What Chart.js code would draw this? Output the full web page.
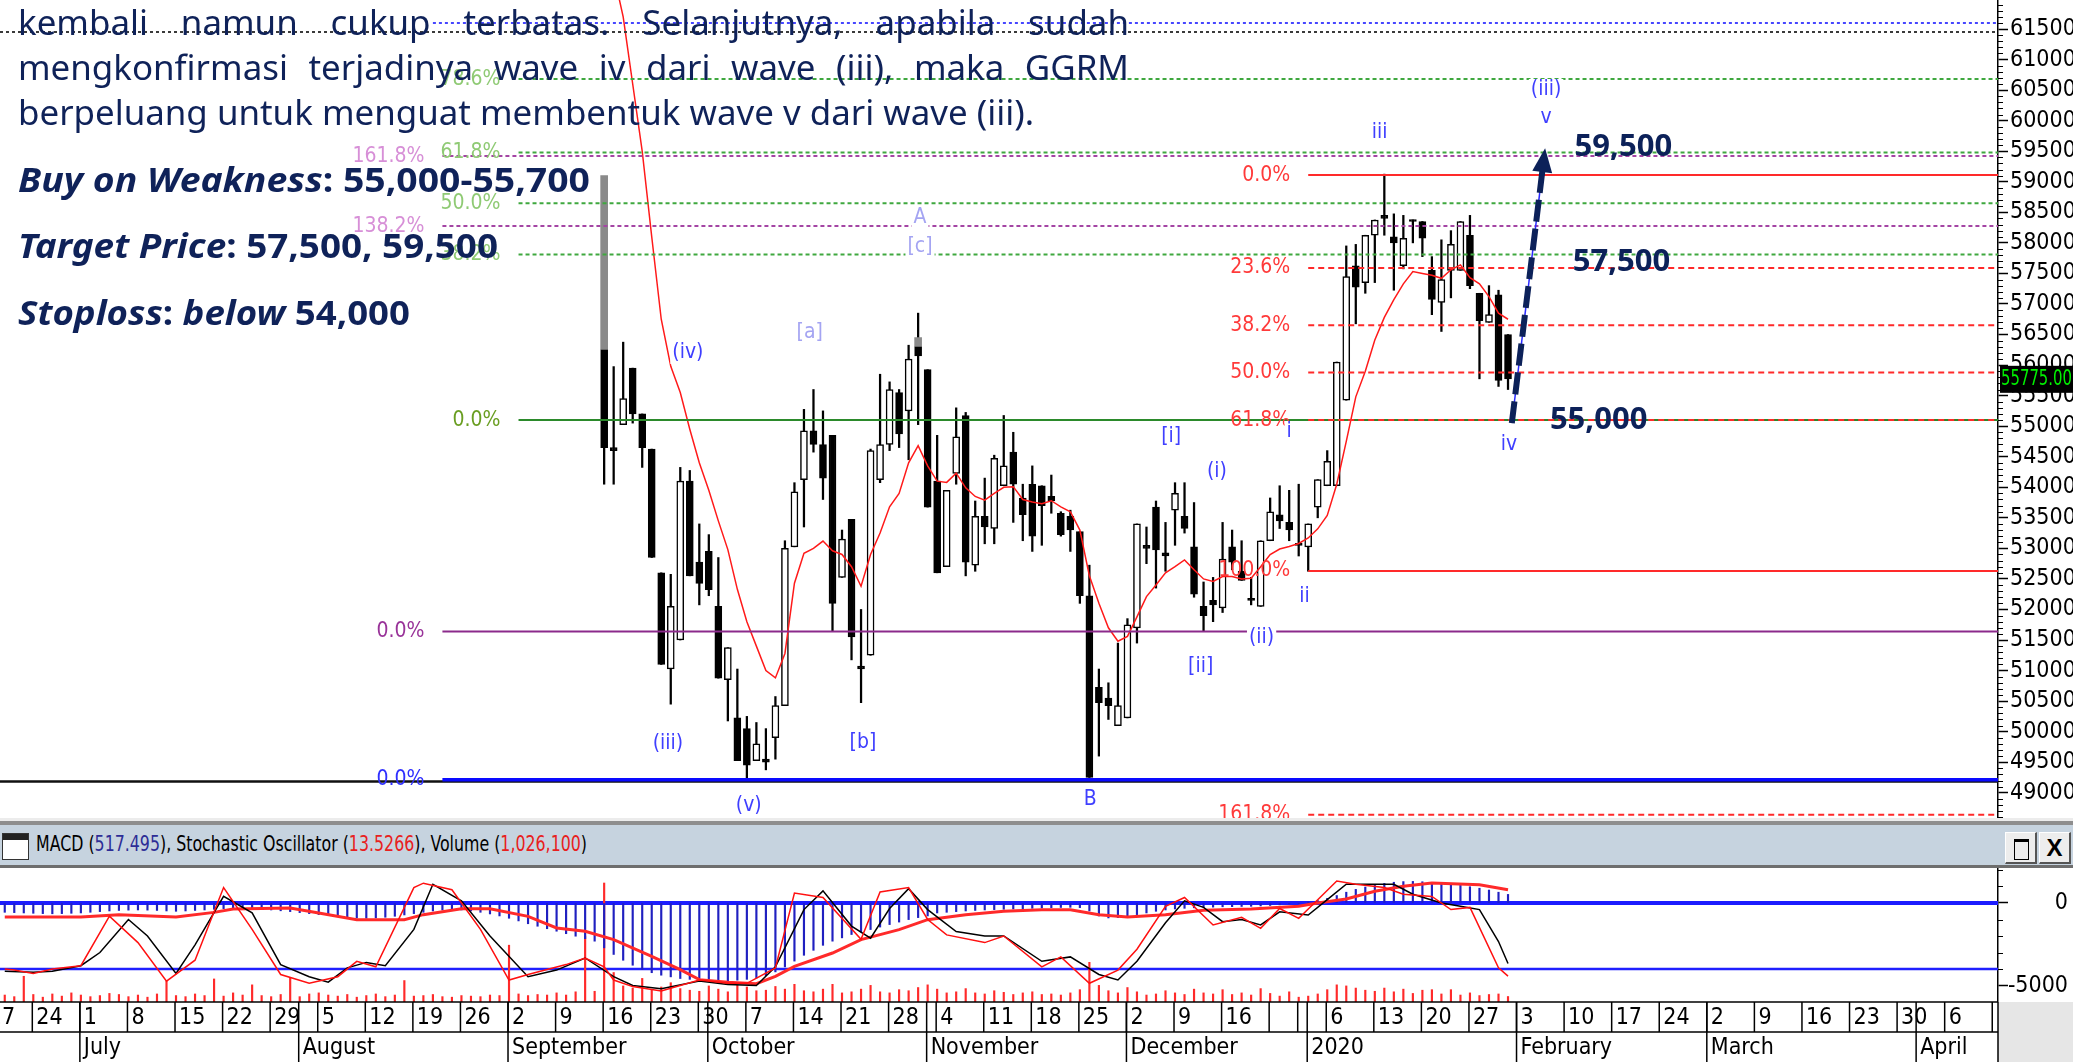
<!DOCTYPE html>
<html lang="id">
<head>
<meta charset="utf-8">
<title>GGRM</title>
<script src="https://cdn.jsdelivr.net/npm/chart.js@4.4.1/dist/chart.umd.min.js"></script>
<style>
html,body{margin:0;padding:0;background:#fff;}
body{width:2073px;height:1062px;position:relative;overflow:hidden;font-family:"Noto Sans",sans-serif;}
#mainBox{position:absolute;left:0;top:0;width:2073px;height:818px;}
#lowBox{position:absolute;left:0;top:868px;width:2073px;height:194px;}
#sepA{position:absolute;left:0;top:818px;width:2073px;height:3px;background:#ececec;}
#sepB{position:absolute;left:0;top:821px;width:2073px;height:4px;background:#8e8e8e;}
#hdr{position:absolute;left:0;top:825px;width:2073px;height:40px;background:#c6d3df;}
#hdrLine{position:absolute;left:0;top:865px;width:2073px;height:3px;background:#6e6e6e;}
#icon{position:absolute;left:2px;top:833px;width:27px;height:27px;border:1px solid #333;background:#fff;box-sizing:border-box;}
#icon:before{content:"";position:absolute;left:0;top:0;right:0;height:6px;background:#222;}
.btn{position:absolute;top:832px;width:32px;height:32px;box-sizing:border-box;background:#ededed;border:1px solid #fff;border-right:2px solid #555;border-bottom:2px solid #555;}
#btnMax:before{content:"";position:absolute;left:8px;top:6px;width:13px;height:17px;border:1.5px solid #000;border-top:3px solid #000;}
#btnX{font:bold 24px "Liberation Sans","DejaVu Sans",sans-serif;text-align:center;line-height:29px;color:#000;}
#hdrTxt{position:absolute;left:36px;top:830px;font:22px "Liberation Sans Narrow","DejaVu Sans Condensed",sans-serif;color:#000;white-space:nowrap;transform-origin:0 0;display:inline-block;line-height:28px;}
#para{position:absolute;left:18px;top:0px;font-size:34px;line-height:45px;color:#0f2259;transform-origin:0 0;font-family:"Noto Sans",sans-serif;}
#para .j{text-align:justify;text-align-last:justify;white-space:nowrap;}
#l3{display:inline-block;white-space:nowrap;}
.bl{position:absolute;left:18px;font:bold 34px "Noto Sans",sans-serif;line-height:40px;color:#0f2259;white-space:nowrap;transform-origin:0 0;display:inline-block;}
.bl i{font-style:italic;}
</style>
</head>
<body>
<div id="mainBox"><canvas id="mainChart"></canvas></div>
<div id="sepA"></div><div id="sepB"></div>
<div id="hdr"></div>
<div id="icon"></div>
<div id="hdrTxt">MACD (<span style="color:#2d2d96">517.495</span>), Stochastic Oscillator (<span style="color:#e82020">13.5266</span>), Volume (<span style="color:#e82020">1,026,100</span>)</div>
<div class="btn" id="btnMax" style="left:2005px"></div>
<div class="btn" id="btnX" style="left:2039px">X</div>
<div id="hdrLine"></div>
<div id="lowBox"><canvas id="lowChart"></canvas></div>

<div id="para">
  <div class="j" id="l1">kembali namun cukup terbatas. Selanjutnya, apabila sudah</div>
  <div class="j" id="l2">mengkonfirmasi terjadinya wave iv dari wave (iii), maka GGRM</div>
  <div><span id="l3">berpeluang untuk menguat membentuk wave v dari wave (iii).</span></div>
</div>
<div class="bl" id="b1" style="top:159px"><i>Buy on Weakness</i>: 55,000-55,700</div>
<div class="bl" id="b2" style="top:225px"><i>Target Price</i>: 57,500, 59,500</div>
<div class="bl" id="b3" style="top:292px"><i>Stoploss</i>: <i>below</i> 54,000</div>

<script>
// ---------------- DATA ----------------
const holidays = ['2019-12-24','2019-12-25','2019-12-31','2020-01-01'];
const firstDay = '2019-06-19';
const lastDay  = '2020-04-13';
const monthNames = ['2020','February','March','April','May','June','July','August','September','October','November','December'];

const priceTicks = [49000,49500,50000,50500,51000,51500,52000,52500,53000,53500,54000,54500,55000,55500,56000,56500,57000,57500,58000,58500,59000,59500,60000,60500,61000,61500];
const macdTicks = [-5000, 0];

// candles from 2019-09-16 to 2020-01-31
const candleStartDate = '2019-09-16';
const candleOpen = [
56250,54650,55025,55950,55200,54625,52600,51025,51500,54100,
52775,52950,52050,50850,50225,50050,49525,49550,49900,50425,
53025,54125,54925,54700,54850,52525,53475,51075,51250,54125,
54700,55550,55250,56300,55925,54100,52700,54225,55175,52725,
53525,53325,54025,54575,53825,54050,54025,53850,53575,53525,
53275,52225,50725,50550,50100,50225,51700,53050,53675,52925,
53625,53525,53025,52050,52150,52025,53025,52625,52175,52050,
53125,53550,53425,53075,53025,53675,54025,54025,55425,57625,
57350,58125,58450,58100,57625,58375,58350,57550,57025,57550,
57550,58125,57175,56700,57150,56500];
const candleHigh = [
56250,55975,56375,55950,55200,54625,52600,52575,54325,54275,
53400,53225,52850,51375,51025,50250,50150,50050,50575,53125,
54075,55275,55600,55250,54850,53300,53475,52000,54625,55850,
55725,55600,56325,56850,55925,54850,53950,55300,55225,53775,
54150,54525,55175,54900,54050,54350,54025,54200,53600,53625,
53275,52725,51025,50800,51450,51850,53400,53350,53775,53425,
54075,54075,53750,52450,52525,53425,53300,53125,52525,53125,
53825,54025,53950,54050,53400,54125,54600,56050,57950,57975,
58125,58375,59125,58475,58450,58375,58350,57775,58050,58200,
58350,58450,57175,57300,57225,56500];
const candleLow = [
54050,54050,55025,55050,54325,52850,51100,50450,51500,52550,
52075,52225,50875,50175,49525,49200,49525,49375,49550,50425,
53025,53350,54575,53800,51650,52525,51175,50475,51250,54075,
54600,54650,54450,55025,53675,52600,52700,54050,52550,52625,
53075,53075,54025,53425,53125,52950,53050,53575,53200,52950,
52100,49250,49600,50200,50100,50225,51450,52750,52350,52625,
53050,53250,52200,51650,51800,51950,52650,52475,52075,52050,
53125,53325,53125,52875,52625,53500,54025,54025,55425,56675,
57175,57350,58125,57225,57575,58000,57775,56825,56550,57100,
57550,57250,55775,56700,55650,55600];
const candleClose = [
54650,54600,55450,55200,54650,52850,51100,52050,54100,52550,
52425,52325,50875,51375,49525,49450,49800,49500,50425,53000,
53925,54925,54700,54150,52100,53150,51550,51025,54600,54700,
55600,54875,56100,56150,53675,52600,53950,54825,52775,53525,
53350,54475,54350,54050,53550,53200,53700,53775,53225,53300,
52225,49250,50475,50425,50425,51750,53400,53000,52975,52875,
53900,53325,52250,51900,52075,52825,52775,52475,52150,53125,
53600,53450,53300,53050,53400,54125,54425,56050,57450,57275,
58125,58375,58400,58000,58075,58350,58075,57075,57400,57975,
58350,57300,56725,56825,55750,55775];
// grey upper parts of two candles
const grayDates = ['2019-09-16','2019-10-31'];
const grayLow   = [56250, 56300];
const grayHigh  = [59100, 56450];

// red moving average from 2019-09-13
const maStartDate = '2019-09-13';
const maValues = [
64300,63300,62400,61700,60600,59500,58100,56750,55980,55550,
54950,54400,53950,53450,52980,52330,51800,51400,51000,50880,
51280,52430,52920,53000,53120,52960,52900,52700,52380,52900,
53250,53680,53900,54400,54680,54350,54100,54080,54230,53990,
53850,53790,53900,54000,54010,53800,53760,53730,53780,53680,
53600,53300,52550,52100,51700,51480,51560,51880,52210,52400,
52600,52700,52810,52650,52500,52460,52540,52540,52500,52510,
52700,52900,52990,53030,53080,53170,53320,53540,54050,54750,
55480,55900,56410,56780,57070,57330,57530,57500,57470,57420,
57560,57640,57430,57330,57120,56850,56750];

// Fibonacci / horizontal levels
const topDotLevels = [61600, 61450];
const greenFibLevels = [60680, 59480, 58650, 57810, 55100];
const greenFibLabels = ['78.6%','61.8%','50.0%','38.2%','0.0%'];
const purpleFibLevels = [59420, 58275, 51640];
const purpleFibLabels = ['161.8%','138.2%','0.0%'];
const redFibLevels = [59110, 57590, 56650, 55880, 55100, 52630, 48640];
const redFibLabels = ['0.0%','23.6%','38.2%','50.0%','61.8%','100.0%','161.8%'];
const blueBaseLevel = 49215;
const blackBaseLevel = 49185;
const blueDotStart = 45, purpleStart = 46, greenStart = 54, redStart = 137, blueStart = 46;

// Elliott wave labels
const waveText  = ['(iv)','[a]','A','[c]','(iii)','(v)','[b]','B','[i]','(i)','[ii]','(ii)','i','ii','iii','iv','v','(iii)'];
const waveIdx   = [71.8, 84.6, 96.2, 96.2, 69.7, 78.2, 90.2, 114.1, 122.6, 127.4, 125.7, 132.1, 135.0, 136.6, 144.5, 158.1, 162.0, 162.0];
const wavePrice = [56197, 56525, 58407, 57932, 49798, 48783, 49814, 48881, 54822, 54250, 51058, 51533, 54904, 52204, 59798, 54692, 60043, 60502];

// Target annotations
const targetText  = ['59,500','57,500','55,000'];
const targetIdx   = [165.0, 164.8, 162.4];
const targetPrice = [59560, 57680, 55100];
const arrowFrom = [158.4, 55050];
const arrowTo   = [161.9, 59550];

// lower panel (index 0 = 2019-06-19 ... 158 = 2020-01-31)
const volumeK = [
1300,1000,4800,1400,900, 1500,1100,1700,1300,1000, 1200,1600,1400,1000,1300, 900,1500,3900,1200,1000,
1500,1200,4300,1100,1700, 1300,3200,1200,1000,1400, 4600,1000,1500,1700,1300, 1100,1400,900,1200,1500,
1000,1300,4000,1100,1200, 1400,1000,900,1200,1100, 1000,1300,1200,10600,1500, 1200,1400,1300,1700,1300,
1900,12300,2000,22200,5500, 3000,2600,4400,2200,2800, 3600,2500,2200,2000,3000, 2400,1900,3200,2800,2100,
2200,2900,2400,3300,2100, 1900,2400,3300,1700,1900, 2400,3100,1900,1700,2300, 2100,2700,3200,2400,1700,
1900,2500,1700,1500,2100, 1800,1400,1700,1900,1400, 1500,1300,1700,2300,7400, 3100,2100,1700,2700,1900,
1300,1500,2100,1700,1400, 2400,1700,1500,2300,1400, 1700,1300,2500,1600,1100, 1900,900,1100,1500,2300,
3200,3000,2600,2200,2000, 2600,1900,2400,1600,2200, 2300,1500,2300,1300,1700, 1200,1400,1500,1026];
const macdHist = [
-560,-580,-600,-620,-640,-650,-640,-620,
-600,-560,-520,-480,-450,-430,-420,-430,
-450,-480,-500,-480,-450,-420,-380,-340,
-320,-330,-350,-380,-420,-470,-520,-580,
-640,-700,-760,-820,-870,-900,-920,-900,
-860,-800,-720,-640,-560,-480,-420,-400,
-420,-480,-560,-660,-780,-920,-1080,-1250,
-1400,-1550,-1700,-1850,-2000,-2150,-2300,
-2700,-3100,-3450,-3750,-4000,-4200,-4350,
-4450,-4550,-4600,-4650,-4700,-4700,-4680,-4650,-4600,-4520,
-4380,-4150,-3850,-3500,-3150,-2850,-2550,-2300,
-2100,-1900,-1750,-1600,-1450,-1300,-1150,-1000,-880,-780,
-600,-560,-520,-480,-450,-420,-400,-380,-360,-340,-320,
-300,-280,-270,-260,-280,-480,
-780,-900,-880,-800,-700,-600,-500,
-420,-360,-320,-290,-270,-250,-230,-220,-210,-200,
-180,-150,-110,-60,-10,
60,150,280,450,650,820,960,1080,1180,1250,1290,1300,1280,1240,1190,1130,1060,980,890,780,650,517];
const macdSignalPts = [[0,-843],[8,-843],[12,-703],[18,-843],[22,-565],[24,-364],[30,-301],[33,-602],[37,-1004],[42,-1004],[44,-703],[48,-343],[51,-343],[55,-803],[58,-1506],[61,-1707],[64,-2209],[68,-3213],[71,-4016],[73,-4618],[76,-4779],[79,-4859],[81,-4417],[83,-3815],[87,-3012],[90,-2209],[94,-1607],[97,-1004],[101,-703],[105,-502],[109,-402],[112,-402],[115,-703],[118,-843],[122,-703],[126,-442],[131,-364],[136,-201],[138,0],[141,241],[144,703],[147,1004],[150,1205],[155,1104],[158,803]];
const stochKPts = [[0,20],[1,19],[3,16],[5,20],[8,23],[11,68],[14,44],[17,9],[20,28],[23,94],[26,56],[29,15],[32,7],[35,13],[37,27],[39,22],[43,94],[44,98],[47,92],[50,56],[53,10],[55,15],[59,24],[61,30],[63,22],[64,10],[66,4],[69,0],[73,10],[76,7],[78,7],[81,21],[83,89],[86,85],[90,47],[92,90],[95,94],[97,65],[99,51],[103,44],[105,50],[109,22],[111,31],[114,7],[117,19],[119,38],[122,77],[124,85],[127,60],[130,67],[132,57],[134,75],[136,66],[138,83],[140,100],[142,97],[145,94],[147,88],[150,86],[152,74],[154,76],[157,21],[158,13.5]];
const stochDPts = [[0,18],[3,17],[5,18],[8,23],[10,35],[13,65],[15,50],[18,16],[20,42],[23,86],[26,71],[29,24],[32,13],[34,8],[36,21],[38,26],[40,23],[43,56],[45,97],[48,82],[51,50],[55,13],[58,19],[61,30],[64,13],[66,5],[69,2],[73,9],[76,6],[79,5],[81,22],[84,74],[86,91],[89,59],[91,48],[93,75],[95,93],[97,74],[100,54],[103,50],[105,50],[109,27],[112,31],[115,15],[117,10],[119,27],[122,62],[124,82],[126,76],[128,63],[130,65],[132,60],[134,72],[137,69],[139,83],[141,97],[144,97],[146,97],[148,88],[151,80],[153,77],[155,74],[157,45],[158,25]];
const stochLevels = [80, 20];

// ---------------- CALENDAR ----------------
function parseD(s){const [Y,M,D]=s.split('-').map(Number);return new Date(Y,M-1,D);}
function keyD(d){return d.getFullYear()+'-'+String(d.getMonth()+1).padStart(2,'0')+'-'+String(d.getDate()).padStart(2,'0');}
const dates = [];
for (let d = parseD(firstDay); d <= parseD(lastDay); d.setDate(d.getDate()+1)) {
  const w = d.getDay(); const k = keyD(d);
  if (w !== 0 && w !== 6 && !holidays.includes(k)) dates.push(k);
}
const candleStart = dates.indexOf(candleStartDate);
const maStart = dates.indexOf(maStartDate);

const wickData = dates.map((_, i) => { const k = i - candleStart; return (k >= 0 && k < candleOpen.length) ? [candleLow[k], candleHigh[k]] : null; });
const bodyData = dates.map((_, i) => { const k = i - candleStart; return (k >= 0 && k < candleOpen.length) ? [Math.min(candleOpen[k], candleClose[k]), Math.max(candleOpen[k], candleClose[k])] : null; });
const grayData = dates.map(d => { const g = grayDates.indexOf(d); return g >= 0 ? [grayLow[g], grayHigh[g]] : null; });
const maData = dates.map((_, i) => { const k = i - maStart; return (k >= 0 && k < maValues.length) ? maValues[k] : null; });
const toPts = arr => arr.map(([i, v]) => ({x: dates[i], y: v}));

const NARROW = '"Liberation Sans Narrow","Arial Narrow","DejaVu Sans Condensed",sans-serif';
Chart.defaults.font.family = NARROW;

// ---------------- MAIN PLUGIN ----------------
function hline(ctx, x1, x2, yy, color, width, dash){
  ctx.save(); ctx.strokeStyle = color; ctx.lineWidth = width; ctx.setLineDash(dash || []);
  ctx.beginPath(); ctx.moveTo(x1, yy); ctx.lineTo(x2, yy); ctx.stroke(); ctx.restore();
}
function rtext(ctx, t, xx, yy, color){
  ctx.save(); ctx.font = '21px ' + NARROW; ctx.fillStyle = color; ctx.textAlign = 'right'; ctx.textBaseline = 'middle';
  ctx.fillText(t, xx, yy); ctx.restore();
}
const mainAnnot = {
  id: 'mainAnnot',
  afterDatasetsDraw(chart){
    const {ctx, chartArea: a, scales: {x, y}} = chart;
    const px = i => x.getPixelForValue(i), py = v => y.getPixelForValue(v);
    const R = a.right;
    ctx.save();
    ctx.beginPath(); ctx.rect(a.left, a.top, a.right - a.left, a.bottom - a.top); ctx.clip();
    hline(ctx, a.left, R, py(topDotLevels[1]), '#3a3a3a', 2, [3,3]);
    hline(ctx, px(blueDotStart), R, py(topDotLevels[0]), '#4646ff', 2, [3,3]);
    hline(ctx, a.left, R, py(blackBaseLevel), '#101010', 2.5);
    hline(ctx, px(blueStart), R, py(blueBaseLevel), '#0a0aff', 3.5);
    rtext(ctx, '0.0%', px(blueStart) - 18, py(blueBaseLevel), '#3030ff');
    purpleFibLevels.forEach((v, k) => {
      const solid = purpleFibLabels[k] === '0.0%';
      hline(ctx, px(purpleStart), R, py(v), solid ? '#8b2a8b' : '#a445a4', 2, solid ? [] : [4,3]);
      rtext(ctx, purpleFibLabels[k], px(purpleStart) - 18, py(v), solid ? '#993399' : '#d78fd7');
    });
    greenFibLevels.forEach((v, k) => {
      const solid = greenFibLabels[k] === '0.0%';
      hline(ctx, px(greenStart), R, py(v), solid ? '#2b8a2b' : '#3fa83f', 2, solid ? [] : [4,3]);
      rtext(ctx, greenFibLabels[k], px(greenStart) - 18, py(v), solid ? '#6a9e22' : '#8fca74');
    });
    redFibLevels.forEach((v, k) => {
      const solid = redFibLabels[k] === '0.0%' || redFibLabels[k] === '100.0%';
      hline(ctx, px(redStart), R, py(v), '#ff2a2a', 2, solid ? [] : [6,4]);
      rtext(ctx, redFibLabels[k], px(redStart) - 18, py(v), '#ff3a3a');
    });
    const x1 = px(arrowFrom[0]), y1 = py(arrowFrom[1]), x2 = px(arrowTo[0]), y2 = py(arrowTo[1]);
    const ang = Math.atan2(y2 - y1, x2 - x1);
    const xe = x2 - Math.cos(ang) * 18, ye = y2 - Math.sin(ang) * 18;
    ctx.save();
    ctx.strokeStyle = '#2b2bff'; ctx.lineWidth = 1.5; ctx.beginPath(); ctx.moveTo(x1, y1); ctx.lineTo(xe, ye); ctx.stroke();
    ctx.strokeStyle = '#0c2159'; ctx.lineWidth = 6; ctx.setLineDash([22, 7]);
    ctx.beginPath(); ctx.moveTo(x1, y1); ctx.lineTo(xe, ye); ctx.stroke();
    ctx.setLineDash([]); ctx.fillStyle = '#0c2159';
    ctx.beginPath(); ctx.moveTo(x2, y2);
    ctx.lineTo(x2 - Math.cos(ang) * 24 + Math.sin(ang) * 10, y2 - Math.sin(ang) * 24 - Math.cos(ang) * 10);
    ctx.lineTo(x2 - Math.cos(ang) * 24 - Math.sin(ang) * 10, y2 - Math.sin(ang) * 24 + Math.cos(ang) * 10);
    ctx.closePath(); ctx.fill();
    ctx.restore();
    ctx.font = '21px ' + NARROW; ctx.textAlign = 'center'; ctx.textBaseline = 'middle';
    const pale = ['[a]','A','[c]'];
    waveText.forEach((t, k) => {
      const xx = px(waveIdx[k]), yy = py(wavePrice[k]);
      const w = ctx.measureText(t).width;
      ctx.fillStyle = '#ffffff'; ctx.fillRect(xx - w/2 - 2, yy - 11, w + 4, 22);
      ctx.fillStyle = pale.includes(t) ? '#a4a4f2' : '#3f3fff';
      ctx.fillText(t, xx, yy);
    });
    ctx.font = 'bold 31px "Noto Sans",sans-serif'; ctx.textAlign = 'left'; ctx.fillStyle = '#0c2159';
    targetText.forEach((t, k) => ctx.fillText(t, px(targetIdx[k]), py(targetPrice[k])));
    ctx.restore();
  },
  afterDraw(chart){
    const {ctx, chartArea: a, scales: {y}} = chart;
    ctx.save();
    ctx.strokeStyle = '#000'; ctx.lineWidth = 1;
    for (let v = Math.ceil(y.min / 100) * 100; v <= y.max; v += 100) {
      if (v % 500 === 0) continue;
      const yy = Math.round(y.getPixelForValue(v)) + 0.5;
      ctx.beginPath(); ctx.moveTo(a.right, yy); ctx.lineTo(a.right + 5, yy); ctx.stroke();
    }
    const last = candleClose[candleClose.length - 1];
    const yy = y.getPixelForValue(last);
    const bw = chart.width - a.right - 2;
    ctx.fillStyle = '#000'; ctx.fillRect(a.right + 2, yy - 13, bw, 27);
    ctx.fillStyle = '#00f000'; ctx.font = '21px ' + NARROW; ctx.textAlign = 'left'; ctx.textBaseline = 'middle';
    ctx.fillText(last.toFixed(2), a.right + 3, yy + 1, bw - 2);
    ctx.restore();
  }
};

new Chart(document.getElementById('mainChart'), {
  data: {
    labels: dates,
    datasets: [
      { type: 'bar', label: 'Wick', data: wickData, backgroundColor: '#000', barThickness: 1.6, grouped: false, order: 4 },
      { type: 'bar', label: 'Upper', data: grayData, backgroundColor: '#8a8a8a', barThickness: 7, grouped: false, order: 3 },
      { type: 'bar', label: 'Body', data: bodyData, grouped: false, order: 2, barThickness: 7, minBarLength: 2,
        borderSkipped: false, borderColor: '#000', borderWidth: 1.5,
        backgroundColor: c => { const k = c.dataIndex - candleStart; return (k >= 0 && candleClose[k] > candleOpen[k]) ? '#ffffff' : '#000000'; } },
      { type: 'line', label: 'MA', data: maData, borderColor: '#ff1a1a', borderWidth: 1.5, pointRadius: 0, order: 1 }
    ]
  },
  options: {
    responsive: true, maintainAspectRatio: false, animation: false, devicePixelRatio: 1,
    layout: { padding: 0 },
    plugins: { legend: { display: false }, tooltip: { enabled: false } },
    scales: {
      x: { type: 'category', display: false, offset: true },
      y: {
        position: 'right', min: 48587, max: 61975,
        afterBuildTicks: s => { s.ticks = priceTicks.map(v => ({ value: v })); },
        afterFit: s => { s.width = 75; s.paddingTop = 0; s.paddingBottom = 0; },
        grid: { drawOnChartArea: false, drawTicks: true, tickLength: 10, tickColor: '#000', tickWidth: 1.5 },
        border: { display: true, color: '#000', width: 1.5 },
        ticks: { color: '#000', font: { size: 23 }, padding: 2, autoSkip: false, maxRotation: 0, callback: v => String(v) }
      }
    }
  },
  plugins: [mainAnnot]
});

// ---------------- LOWER PANEL ----------------
const lowAnnot = {
  id: 'lowAnnot',
  beforeDatasetsDraw(chart){
    const {ctx, chartArea: a, scales: {yStoch}} = chart;
    hline(ctx, a.left, a.right, yStoch.getPixelForValue(stochLevels[0]), '#1c1cff', 4);
    hline(ctx, a.left, a.right, yStoch.getPixelForValue(stochLevels[1]), '#2020ff', 2.5);
  },
  afterDraw(chart){
    const {ctx, chartArea: a, scales: {x, yMacd}} = chart;
    const top = a.bottom, mid = top + 30, bot = top + 60;
    ctx.save();
    ctx.strokeStyle = '#000'; ctx.lineWidth = 1;
    for (let v = Math.ceil(yMacd.min / 1000) * 1000; v <= yMacd.max; v += 1000) {
      if (macdTicks.includes(v)) continue;
      const yy = Math.round(yMacd.getPixelForValue(v)) + 0.5;
      ctx.beginPath(); ctx.moveTo(a.right, yy); ctx.lineTo(a.right + 5, yy); ctx.stroke();
    }
    ctx.fillStyle = '#e6e6e6'; ctx.fillRect(a.right, top, chart.width - a.right, bot - top);
    ctx.fillStyle = '#fff'; ctx.fillRect(0, top, a.right, bot - top);
    ctx.strokeStyle = '#000'; ctx.lineWidth = 1.5;
    const seg = (xa, ya, xb, yb) => { ctx.beginPath(); ctx.moveTo(xa, ya); ctx.lineTo(xb, yb); ctx.stroke(); };
    seg(0, top, a.right, top); seg(0, mid, a.right, mid); seg(a.right, top, a.right, bot);
    const D = dates.map(parseD);
    const weeks = [], months = [];
    D.forEach((d, i) => {
      const dow = d.getDay();
      if (i === 0 || dow < D[i-1].getDay() || (d - D[i-1]) > 6 * 864e5) {
        const mon = new Date(d); mon.setDate(d.getDate() - (dow - 1));
        weeks.push({ v: i === 0 ? i - (dow - 1) : i, t: String(mon.getDate()) });
      }
      if (i > 0 && d.getMonth() !== D[i-1].getMonth()) months.push({ v: i, t: monthNames[d.getMonth()] });
    });
    ctx.font = '23px ' + NARROW; ctx.fillStyle = '#000'; ctx.textBaseline = 'middle'; ctx.textAlign = 'left';
    weeks.forEach((w, k) => {
      const xx = x.getPixelForValue(w.v) - 1;
      const nx = k + 1 < weeks.length ? x.getPixelForValue(weeks[k+1].v) - 1 : a.right;
      seg(xx, top, xx, mid);
      if (nx - xx > ctx.measureText(w.t).width + 4) {
        ctx.save(); ctx.beginPath(); ctx.rect(Math.max(xx, 0), top, nx - Math.max(xx, 0), 30); ctx.clip();
        ctx.fillText(w.t, xx + 4, (top + mid) / 2 + 1); ctx.restore();
      }
    });
    months.forEach((m, k) => {
      const xx = x.getPixelForValue(m.v) - 1;
      seg(xx, top, xx, bot);
      const nx = k + 1 < months.length ? x.getPixelForValue(months[k+1].v) - 1 : a.right;
      ctx.save(); ctx.beginPath(); ctx.rect(xx, mid, nx - xx, 30); ctx.clip();
      ctx.fillText(m.t, xx + 4, (mid + bot) / 2 + 1); ctx.restore();
    });
    ctx.restore();
  }
};

new Chart(document.getElementById('lowChart'), {
  data: {
    labels: dates,
    datasets: [
      { type: 'bar', label: 'Volume', data: volumeK, yAxisID: 'yVol', backgroundColor: '#ff2a2a', barThickness: 1.5, grouped: false, order: 5 },
      { type: 'bar', label: 'MACD', data: macdHist, yAxisID: 'yMacd', backgroundColor: '#2020c0', barThickness: 1.5, grouped: false, order: 4 },
      { type: 'line', label: 'Signal', data: toPts(macdSignalPts), yAxisID: 'yMacd', borderColor: '#ff2a2a', borderWidth: 3, pointRadius: 0, order: 3 },
      { type: 'line', label: '%D', data: toPts(stochDPts), yAxisID: 'yStoch', borderColor: '#000', borderWidth: 1.5, pointRadius: 0, order: 2 },
      { type: 'line', label: '%K', data: toPts(stochKPts), yAxisID: 'yStoch', borderColor: '#ff1010', borderWidth: 1.5, pointRadius: 0, order: 1 }
    ]
  },
  options: {
    responsive: true, maintainAspectRatio: false, animation: false, devicePixelRatio: 1,
    layout: { padding: { bottom: 60, right: 5, top: 0, left: 0 } },
    plugins: { legend: { display: false }, tooltip: { enabled: false } },
    scales: {
      x: { type: 'category', display: false, offset: true },
      yMacd: {
        position: 'right', min: -5964, max: 2108,
        afterBuildTicks: s => { s.ticks = macdTicks.map(v => ({ value: v })); },
        afterFit: s => { s.width = 70; s.paddingTop = 0; s.paddingBottom = 0; },
        grid: { drawOnChartArea: false, drawTicks: true, tickLength: 10, tickColor: '#000', tickWidth: 1.5 },
        border: { display: true, color: '#000', width: 1.5 },
        ticks: { color: '#000', font: { size: 23 }, crossAlign: 'far', autoSkip: false, callback: v => String(v) }
      },
      yStoch: { display: false, min: -10, max: 111.8 },
      yVol: { display: false, min: 0, max: 25000 }
    }
  },
  plugins: [lowAnnot]
});

// ---------------- TEXT FITTING ----------------
function fitX(el, target){
  el.style.transform = 'none';
  const w = el.getBoundingClientRect().width;
  el.style.transform = 'scaleX(' + (target / w) + ')';
}
function layoutText(){
  const para = document.getElementById('para');
  para.style.transform = 'none';
  const w3 = document.getElementById('l3').getBoundingClientRect().width;
  const s = 1016 / w3;
  document.getElementById('l1').style.width = (1111 / s) + 'px';
  document.getElementById('l2').style.width = (1111 / s) + 'px';
  para.style.transform = 'scaleX(' + s + ')';
  fitX(document.getElementById('b1'), 572);
  fitX(document.getElementById('b2'), 480);
  fitX(document.getElementById('b3'), 392);
  fitX(document.getElementById('hdrTxt'), 551);
}
layoutText();
if (document.fonts && document.fonts.ready) document.fonts.ready.then(layoutText);
</script>
</body>
</html>
